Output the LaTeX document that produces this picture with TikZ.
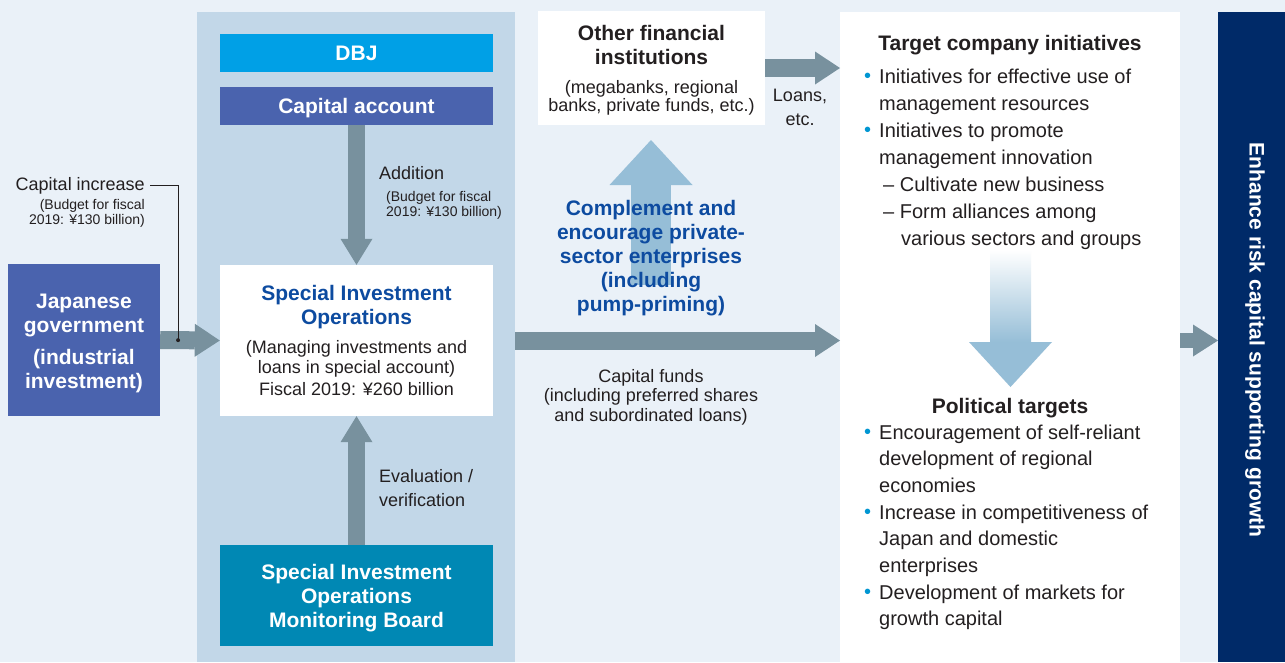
\documentclass[tikz,border=0pt]{standalone}
\usepackage{fontspec}
\setmainfont{Liberation Sans}
\usepackage{graphicx}
\usetikzlibrary{arrows.meta,calc}
\definecolor{bgc}{RGB}{234,241,248}
\definecolor{panelc}{RGB}{194,215,232}
\definecolor{dbjc}{RGB}{0,160,230}
\definecolor{govc}{RGB}{74,99,174}
\definecolor{boardc}{RGB}{0,136,180}
\definecolor{navyc}{RGB}{0,42,104}
\definecolor{arrowc}{RGB}{120,145,158}
\definecolor{lightarr}{RGB}{150,190,215}
\definecolor{blueT}{RGB}{13,75,160}
\definecolor{dotblue}{RGB}{0,150,210}
\definecolor{darkT}{RGB}{35,31,32}
\newcommand\ftitle{\fontsize{21}{24}\selectfont\bfseries}
\newcommand\fmid{\fontsize{18}{20}\selectfont\mdseries}
\newcommand\fsmall{\fontsize{14}{15}\selectfont\mdseries}
\newcommand\fbody{\fontsize{20}{27}\selectfont\mdseries}
\newcommand\fbodyb{\fontsize{20}{26.7}\selectfont\mdseries}
\newcommand\bul{\makebox[15pt][l]{\textcolor{dotblue}{\raisebox{0.5pt}{\textbullet}}}}
\newcommand\ind{\hspace*{15pt}}
\newcommand\dashl{\hspace*{19pt}–\ }
\newcommand\dind{\hspace*{37pt}}
\newcommand\lowerby[1]{\rule{0pt}{\dimexpr 15pt+#1\relax}}
\tikzset{
  cbox/.style={rectangle, inner sep=0pt, align=flush center, text=white, font=\ftitle},
  wbox/.style={rectangle, fill=white, inner sep=0pt, align=flush center},
  harrow/.style={draw=arrowc, line width=18pt, -{Triangle[width=33pt,length=25pt,line width=0pt]}},
  varrow/.style={draw=arrowc, line width=17pt, -{Triangle[width=32pt,length=26pt,line width=0pt]}},
  plain/.style={inner sep=0pt, text=darkT},
}
\begin{document}
\begin{tikzpicture}[x=1pt,y=-1pt]
\useasboundingbox (0,0) rectangle (1285,662);
\fill[bgc] (0,0) rectangle (1285,662);

% panels
\node[rectangle, fill=panelc, inner sep=0pt, minimum width=318pt, minimum height=650pt, anchor=north west] (panel) at (197,12) {};
\node[rectangle, fill=white, inner sep=0pt, minimum width=340pt, minimum height=650pt, anchor=north west] (right) at (840,12) {};
\node[rectangle, fill=navyc, inner sep=0pt, minimum width=67pt, minimum height=650pt, anchor=north west] (bar) at (1218,12) {};
\node[rotate=-90, font=\ftitle, text=white, inner sep=0pt] (bartext) at (1255,340) {Enhance risk capital supporting growth};

% left column boxes
\node[cbox, fill=dbjc, minimum width=273pt, minimum height=38pt] (dbj) at (356.5,53) {DBJ};
\node[cbox, fill=govc, minimum width=273pt, minimum height=38pt, text height=17pt, text depth=2pt] (capacc) at (356.5,106) {Capital account};
\node[wbox, minimum width=273pt, minimum height=151pt, text width=265pt] (sio) at (356.5,340.5)
  {\ftitle\color{blueT}Special Investment\\Operations\par\vspace{9pt}\fmid\color{darkT}(Managing investments and\\loans in special account)\\[4pt]Fiscal 2019: ¥260 billion};
\node[cbox, fill=boardc, minimum width=273pt, minimum height=101pt, text width=265pt] (board) at (356.5,595.5)
  {\lowerby{6pt}Special Investment\\Operations\\Monitoring Board};
\node[cbox, fill=govc, minimum width=152pt, minimum height=152pt, text width=150pt] (gov) at (84,340)
  {\lowerby{6pt}Japanese\\government\\[8pt](industrial\\investment)};

% other financial institutions
\node[wbox, minimum width=227pt, minimum height=114pt, text width=220pt] (ofi) at (651.5,68)
  {\ftitle\color{darkT}\lowerby{4pt}Other financial\\institutions\par\vspace{9pt}\fmid\color{darkT}(megabanks, regional\\banks, private funds, etc.)};

% light blue upward arrow
\coordinate (compbase) at (651,285);
\coordinate (comptip) at (651,140);
\draw[draw=lightarr, line width=40pt, -{Triangle[width=83pt,length=45pt,line width=0pt]}] (compbase) -- (comptip);

% gradient arrow in right panel
\coordinate (gtop) at (1010.5,250);
\coordinate (gmid) at (1010.5,342);
\coordinate (gtip) at (1010.5,387);
\shade[top color=white, bottom color=lightarr] ($(gtop)+(-20.5,0)$) rectangle ($(gmid)+(20.5,0)$);
\fill[lightarr] ($(gmid)+(-41.5,0)$) -- ($(gmid)+(41.5,0)$) -- (gtip) -- cycle;

% arrows
\draw[harrow] (gov.east) -- (sio.west);
\draw[varrow] (capacc.south) -- (sio.north);
\draw[varrow] (board.north) -- (sio.south);
\draw[harrow] (panel.east |- sio.center) -- (right.west |- sio.center);
\draw[harrow] (ofi.east) -- (ofi.east -| right.west);
\draw[draw=arrowc, line width=15pt, -{Triangle[width=32pt,length=25pt,line width=0pt]}] (right.east |- sio.center) -- (bar.west |- sio.center);

% capital increase leader
\coordinate (junc) at ($(gov.east)!0.3!(sio.west)$);
\node[plain, anchor=base east, font=\fmid] (capinc) at (145,190) {Capital increase};
\node[plain, anchor=base east, font=\fsmall, align=flush right, text width=140pt] (capnote) at (145,209) {(Budget for fiscal\\2019: ¥130 billion)};
\draw[line width=0.9pt, darkT, shorten <=5pt] (capinc.east) -| (junc);
\fill[darkT] (junc) circle (2pt);

% labels in left panel
\node[plain, anchor=base west, font=\fmid] (add) at (379,179) {Addition};
\node[plain, anchor=base west, font=\fsmall, align=flush left, text width=120pt] (addnote) at (386,201) {(Budget for fiscal\\2019: ¥130 billion)};
\node[plain, anchor=base west, font=\fontsize{18}{24}\selectfont, align=flush left, text width=120pt] (eval) at (379,482) {Evaluation /\\verification};

% middle texts
\node[inner sep=0pt, anchor=base, font=\ftitle, text=blueT, align=flush center, text width=230pt] (comp) at (651,215)
  {Complement and\\encourage private-\\sector enterprises\\(including\\pump-priming)};
\node[plain, anchor=base, font=\fontsize{18}{19.5}\selectfont, align=flush center, text width=260pt] (cf) at (651,382)
  {Capital funds\\(including preferred shares\\and subordinated loans)};
\node[plain, anchor=base, font=\fontsize{18}{24}\selectfont, align=flush center, text width=70pt] (loans) at (800,101) {Loans,\\etc.};

% right panel texts
\node[plain, anchor=base, font=\ftitle] (tcihead) at (1010,50) {Target company initiatives};
\node[plain, anchor=base west, font=\fbody, align=flush left, text width=310pt] (tci) at (864,83)
  {\bul Initiatives for effective use of\\
   \ind management resources\\
   \bul Initiatives to promote\\
   \ind management innovation\\
   \dashl Cultivate new business\\
   \dashl Form alliances among\\
   \dind various sectors and groups};
\node[plain, anchor=base, font=\ftitle] (pthead) at (1010,413) {Political targets};
\node[plain, anchor=base west, font=\fbodyb, align=flush left, text width=310pt] (pt) at (864,439)
  {\bul Encouragement of self-reliant\\
   \ind development of regional\\
   \ind economies\\
   \bul Increase in competitiveness of\\
   \ind Japan and domestic\\
   \ind enterprises\\
   \bul Development of markets for\\
   \ind growth capital};
\end{tikzpicture}
\end{document}
